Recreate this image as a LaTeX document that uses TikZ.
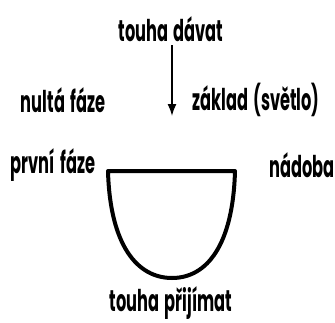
\documentclass[tikz,border=0pt]{standalone}
\usepackage{fontspec}
\setmainfont{Poppins}[FakeStretch=0.54,WordSpace=1.5]
\usetikzlibrary{arrows.meta}
\begin{document}
\begin{tikzpicture}[x=1pt,y=-1pt,
  word/.style={font=\fontsize{30}{34}\selectfont\bfseries, inner sep=0pt}]
\useasboundingbox (0,0) rectangle (335,322);

\node[word] (give) at (171,29) {touha dávat};
\node[word] (zero) at (63,100) {nultá fáze};
\node[word] (base) at (256,100) {základ (světlo)};
\node[word] (first) at (53,165) {první fáze};
\node[word] (vessel) at (302,165) {nádoba};
\node[word] (take) at (171,303) {touha přijímat};

\coordinate (tip) at (172,116);
\draw[line width=1.6pt, -{Latex[length=12pt,width=9pt]}] (172,45) -- (tip);

\draw[line width=4pt, line join=round]
  (108,171) -- (235,171)
  .. controls (233,245) and (207,278) .. (172,278)
  .. controls (137,278) and (110,245) .. cycle;
\end{tikzpicture}
\end{document}
